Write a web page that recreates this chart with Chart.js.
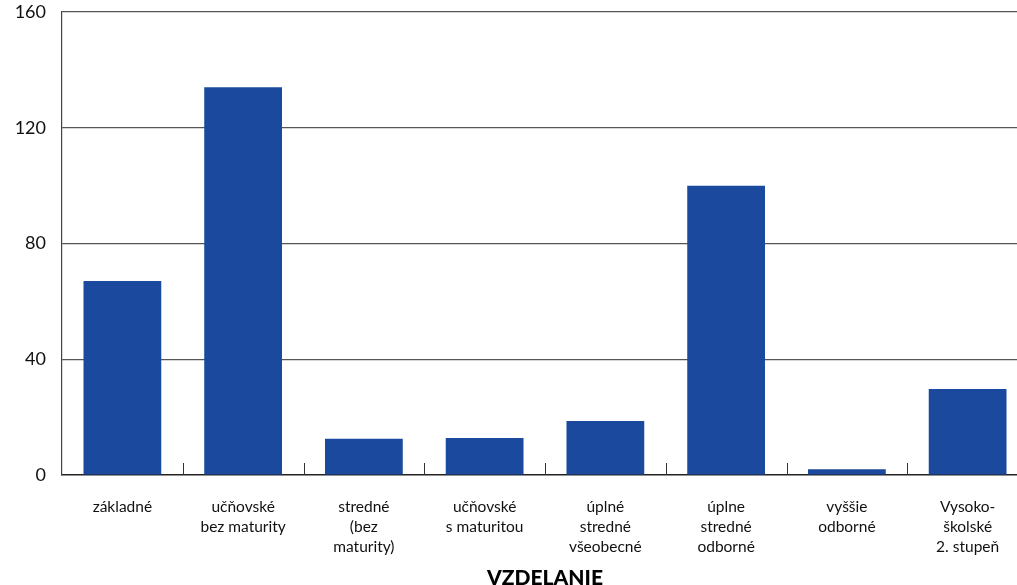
<!DOCTYPE html>
<html>
<head>
<meta charset="utf-8">
<script src="https://cdn.jsdelivr.net/npm/chart.js@4/dist/chart.umd.min.js"></script>
<style>
  html, body { margin: 0; padding: 0; background: #fff; overflow: hidden; }
  #wrap { width: 1028px; height: 594px; }
</style>
</head>
<body>
<div id="wrap"><canvas id="chart"></canvas></div>
<script>
// kategórie vzdelania
const categories = [
  ['základné'],
  ['učňovské', 'bez maturity'],
  ['stredné', '(bez', 'maturity)'],
  ['učňovské', 's maturitou'],
  ['úplné', 'stredné', 'všeobecné'],
  ['úplne', 'stredné', 'odborné'],
  ['vyššie', 'odborné'],
  ['Vysoko-', 'školské', '2. stupeň']
];
const values = [67, 134, 12.5, 12.8, 18.7, 100, 2, 29.7];
const yTicks = [0, 40, 80, 120, 160];

const barColor = '#1a499d';
const fontFamily = 'Lato, "Noto Sans", sans-serif';

// krátke čiarky medzi kategóriami na osi x
const categoryTicks = {
  id: 'categoryTicks',
  afterDatasetsDraw(chart) {
    const x = chart.scales.x;
    const bottom = chart.chartArea.bottom;
    const ctx = chart.ctx;
    ctx.save();
    ctx.strokeStyle = '#333';
    ctx.lineWidth = 1;
    for (let i = 1; i < categories.length; i++) {
      const px = Math.round((x.getPixelForTick(i - 1) + x.getPixelForTick(i)) / 2) + 0.5;
      ctx.beginPath();
      ctx.moveTo(px, bottom - 12);
      ctx.lineTo(px, bottom);
      ctx.stroke();
    }
    ctx.restore();
  }
};

new Chart(document.getElementById('chart'), {
  type: 'bar',
  data: {
    labels: categories,
    datasets: [{
      data: values,
      backgroundColor: barColor,
      borderWidth: 0,
      categoryPercentage: 0.644,
      barPercentage: 1
    }]
  },
  options: {
    responsive: true,
    maintainAspectRatio: false,
    animation: false,
    layout: { padding: { top: 12, left: 0, right: 0, bottom: 0 } },
    plugins: {
      legend: { display: false },
      tooltip: { enabled: false }
    },
    scales: {
      x: {
        grid: { display: false, drawTicks: false },
        border: { display: true, color: '#222', width: 1.5 },
        ticks: {
          color: '#111',
          font: { family: fontFamily, size: 15.5, lineHeight: 1.3 },
          padding: 22,
          maxRotation: 0,
          autoSkip: false
        },
        title: {
          display: true,
          text: 'VZDELANIE',
          color: '#000',
          font: { family: fontFamily, size: 21, weight: 900 },
          padding: { top: 0, bottom: 3 }
        },
        afterFit(scale) {
          scale.height = 119;
          scale.paddingLeft = 0;
          scale.paddingRight = 0;
        }
      },
      y: {
        min: 0,
        max: 160,
        afterBuildTicks(scale) { scale.ticks = yTicks.map(v => ({ value: v })); },
        grid: {
          color: ctx => ctx.tick && ctx.tick.value === 0 ? 'rgba(0,0,0,0)' : '#555',
          lineWidth: 1.2,
          drawTicks: false
        },
        border: { display: true, color: '#444', width: 1.2 },
        ticks: {
          color: '#111',
          font: { family: fontFamily, size: 18, lineHeight: 1.0 },
          padding: 16
        },
        afterFit(scale) {
          scale.width = 62;
          scale.paddingTop = 0;
          scale.paddingBottom = 0;
        }
      }
    }
  },
  plugins: [categoryTicks]
});
</script>
</body>
</html>
